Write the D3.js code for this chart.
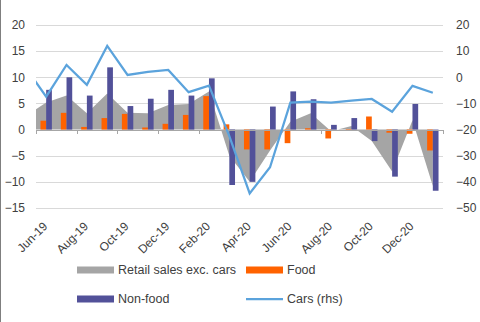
<!DOCTYPE html>
<html>
<head>
<meta charset="utf-8">
<script src="https://cdn.jsdelivr.net/npm/d3@7"></script>
<style>
  body { margin: 0; background: #fff; }
  svg { display: block; font-family: "Liberation Sans", Arial, sans-serif; }
</style>
</head>
<body>
<div id="chart"></div>
<script>
var width = 480
var height = 322

// categories shown on the bar axis (Jun-19 .. Jan-21)
var months = ["Jun-19","Jul-19","Aug-19","Sep-19","Oct-19","Nov-19","Dec-19",
  "Jan-20","Feb-20","Mar-20","Apr-20","May-20","Jun-20","Jul-20","Aug-20","Sep-20",
  "Oct-20","Nov-20","Dec-20","Jan-21"]
// the line and area series start one month earlier (May-19), cut at the plot edge
var lineMonths = ["May-19"].concat(months)

var food = [1.7, 3.2, 0.5, 2.2, 3.0, 0.4, 1.1, 2.8, 6.4, 1.0, -3.8, -3.8, -2.6, 0.25, -1.7, 0.1, 2.5, -0.6, -0.8, -4.0]
var nonFood = [7.6, 10.0, 6.5, 11.9, 4.5, 5.9, 7.6, 6.5, 9.8, -10.6, -10.0, 4.4, 7.3, 5.8, 0.9, 2.2, -2.2, -9.0, 4.9, -11.7]
var retailExCars = [2.6, 5.2, 6.5, 3.1, 6.9, 3.2, 3.1, 4.7, 4.9, 7.3, -5.0, -10.0, -4.0, 1.5, 3.1, -0.3, 0.7, -2.2, -8.0, 1.8, -10.8]
var cars = [3.6, -7.4, 4.7, -2.9, 12.0, 0.9, 2.1, 2.8, -5.7, -3.2, -22.5, -44.4, -34.4, -9.7, -9.3, -9.7, -8.9, -8.3, -13.2, -3.3, -5.9]

var leftTicks = [20, 15, 10, 5, 0, -5, -10, -15]
var rightTicks = [20, 10, 0, -10, -20, -30, -40, -50]
var xLabels = ["Jun-19","Aug-19","Oct-19","Dec-19","Feb-20","Apr-20","Jun-20","Aug-20","Oct-20","Dec-20"]

var plotLeft = 36, plotRight = 443, plotTop = 25, plotBottom = 208

var x = d3.scaleBand().domain(months).range([plotLeft, plotRight]).padding(0)
var band = x.bandwidth()
var xc = function(m) {
  if (months.indexOf(m) < 0) return x(months[0]) - band / 2
  return x(m) + band / 2
}
var xTick = d3.scaleLinear().domain([0, months.length]).range([plotLeft, plotRight])
var yL = d3.scaleLinear().domain([-15, 20]).range([plotBottom, plotTop])
var yR = d3.scaleLinear().domain([-50, 20]).range([plotBottom, plotTop])

var svg = d3.select("#chart").append("svg").attr("width", width).attr("height", height)

svg.append("line")
  .attr("x1", 0.5).attr("x2", 0.5).attr("y1", 0).attr("y2", height)
  .attr("stroke", "#7f7f7f").attr("stroke-width", 1)

svg.append("defs").append("clipPath").attr("id", "plotclip")
  .append("rect").attr("x", plotLeft).attr("y", 0).attr("width", plotRight - plotLeft).attr("height", height)

// gridlines + left labels
var gL = svg.append("g")
  .attr("transform", "translate(" + plotLeft + ",0)")
  .call(d3.axisLeft(yL).tickValues(leftTicks).tickSizeInner(-(plotRight - plotLeft)).tickSizeOuter(0).tickPadding(11))
gL.select(".domain").remove()
gL.selectAll("line").attr("stroke", "#d9d9d9").attr("shape-rendering", "crispEdges")
gL.selectAll("text").attr("fill", "#404040").style("font-size", "12px")

// right labels
var gR = svg.append("g")
  .attr("transform", "translate(" + plotRight + ",0)")
  .call(d3.axisRight(yR).tickValues(rightTicks).tickSize(0).tickPadding(13))
gR.select(".domain").remove()
gR.selectAll("text").attr("fill", "#404040").style("font-size", "12px")

// area (left axis)
var area = d3.area()
  .x(function(d, i) { return xc(lineMonths[i]) })
  .y0(yL(0))
  .y1(function(d) { return yL(d) })
svg.append("path")
  .datum(retailExCars)
  .attr("clip-path", "url(#plotclip)")
  .attr("fill", "#a5a5a5")
  .attr("d", area)

var barW = band * 0.28
svg.selectAll("rect.food")
  .data(food).enter().append("rect")
  .attr("class", "food")
  .attr("x", function(d, i) { return xc(months[i]) - barW })
  .attr("width", barW)
  .attr("y", function(d) { return yL(Math.max(0, d)) })
  .attr("height", function(d) { return Math.abs(yL(d) - yL(0)) })
  .attr("fill", "#ff6200")

svg.selectAll("rect.nonfood")
  .data(nonFood).enter().append("rect")
  .attr("class", "nonfood")
  .attr("x", function(d, i) { return xc(months[i]) })
  .attr("width", barW)
  .attr("y", function(d) { return yL(Math.max(0, d)) })
  .attr("height", function(d) { return Math.abs(yL(d) - yL(0)) })
  .attr("fill", "#525199")

// category axis at zero
var gX = svg.append("g")
  .attr("transform", "translate(0," + yL(0) + ")")
  .call(d3.axisBottom(xTick).tickValues(d3.range(0, months.length + 1, 2)).tickSize(4).tickFormat(""))
gX.selectAll("line, path").attr("stroke", "#a6a6a6").attr("shape-rendering", "crispEdges")

// cars line (right axis)
var line = d3.line()
  .x(function(d, i) { return xc(lineMonths[i]) })
  .y(function(d) { return yR(d) })
svg.append("path")
  .datum(cars)
  .attr("clip-path", "url(#plotclip)")
  .attr("fill", "none")
  .attr("stroke", "#5ba3dc")
  .attr("stroke-width", 2.25)
  .attr("stroke-linejoin", "miter")
  .attr("d", line)

// rotated month labels
svg.selectAll("text.xlab")
  .data(xLabels).enter().append("text")
  .attr("class", "xlab")
  .attr("text-anchor", "end")
  .attr("fill", "#404040")
  .style("font-size", "12px")
  .attr("transform", function(d) {
    return "translate(" + (xc(d) + 2) + "," + (plotBottom + 19) + ") rotate(-45)"
  })
  .text(function(d) { return d })

// legend
var legend = [
  {name: "Retail sales exc. cars", type: "rect", color: "#a5a5a5", x: 77, y: 270},
  {name: "Food", type: "rect", color: "#ff6200", x: 246, y: 270},
  {name: "Non-food", type: "rect", color: "#525199", x: 77, y: 299},
  {name: "Cars (rhs)", type: "line", color: "#5ba3dc", x: 246, y: 299}
]
var lg = svg.selectAll("g.leg").data(legend).enter().append("g")
  .attr("class", "leg")
  .attr("transform", function(d) { return "translate(" + d.x + "," + d.y + ")" })
lg.filter(function(d) { return d.type == "rect" }).append("rect")
  .attr("x", 0).attr("y", -3.5).attr("width", 37).attr("height", 7)
  .attr("fill", function(d) { return d.color })
lg.filter(function(d) { return d.type == "line" }).append("line")
  .attr("x1", 0).attr("x2", 37).attr("y1", 0).attr("y2", 0)
  .attr("stroke", function(d) { return d.color }).attr("stroke-width", 2.25)
lg.append("text")
  .attr("x", 41).attr("y", 0).attr("dy", "0.35em")
  .attr("fill", "#404040")
  .style("font-size", "12.5px")
  .text(function(d) { return d.name })
</script>
</body>
</html>
